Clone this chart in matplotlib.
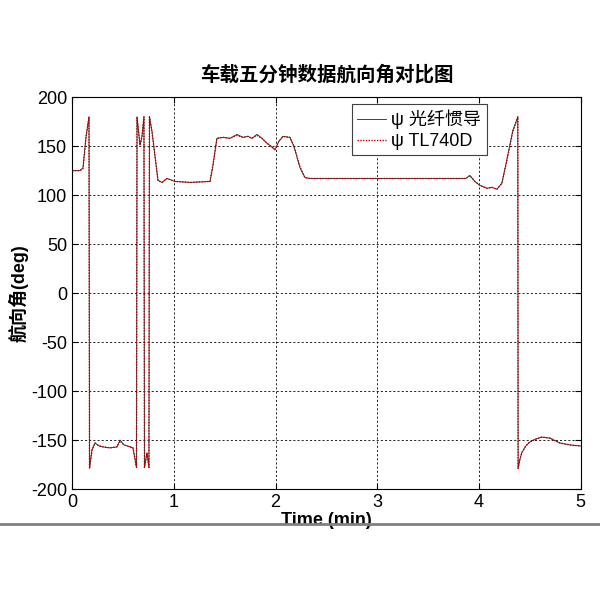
import matplotlib
matplotlib.use('Agg')
import matplotlib.pyplot as plt
from matplotlib.lines import Line2D

plt.rcParams['font.family'] = ['Liberation Sans', 'Noto Sans CJK SC', 'DejaVu Sans']
plt.rcParams['axes.unicode_minus'] = False

# heading (deg) vs time (min); wraps at +-180
time_min = [0.0, 0.079, 0.108, 0.138, 0.167, 0.172, 0.196, 0.226, 0.265, 0.305,
            0.373, 0.442, 0.472, 0.511, 0.570, 0.599, 0.634, 0.639, 0.668, 0.688,
            0.707, 0.712, 0.737, 0.756, 0.761, 0.786, 0.815, 0.845, 0.884, 0.933,
            1.012, 1.159, 1.356, 1.385, 1.424, 1.483, 1.552, 1.621, 1.680, 1.729,
            1.768, 1.817, 1.867, 1.916, 1.955, 1.994, 2.033, 2.073, 2.141, 2.181,
            2.240, 2.289, 2.338, 2.731, 3.222, 3.713, 3.870, 3.910, 3.959, 4.008,
            4.077, 4.126, 4.175, 4.224, 4.273, 4.332, 4.381, 4.384, 4.401, 4.420,
            4.460, 4.499, 4.558, 4.617, 4.695, 4.794, 4.892, 4.990, 5.0]
psi_fog = [125, 125, 128, 160, 180, -179, -160, -153, -156, -157,
           -158, -157, -150, -155, -157, -158, -178, 180, 151, 160,
           180, -178, -163, -178, 180, 165, 140, 115, 113, 117,
           114, 113, 114, 130, 158, 159, 158, 162, 159, 160,
           158, 162, 158, 153, 150, 146, 155, 160, 159, 150,
           128, 118, 117, 117, 117, 117, 117, 120, 114, 110,
           107, 108, 106, 112, 136, 166, 180, -179, -170, -163,
           -156, -152, -149, -147, -148, -153, -155, -156, -156]
psi_tl740d = [125, 125, 127, 159, 180, -179, -161, -153, -156, -157,
              -158, -157, -151, -155, -157, -158, -178, 180, 151, 160,
              180, -178, -163, -178, 180, 165, 141, 115, 113, 117,
              114, 113, 114, 131, 158, 159, 158, 161, 159, 160,
              158, 161, 158, 153, 150, 147, 155, 160, 159, 150,
              129, 118, 117, 117, 117, 117, 117, 120, 114, 110,
              107, 108, 106, 112, 135, 165, 180, -179, -170, -163,
              -156, -152, -149, -147, -148, -153, -155, -156, -156]

fig = plt.figure(figsize=(6, 6), dpi=100)
ax = fig.add_axes([0.12, 0.185, 0.848, 0.653])

ax.plot(time_min, psi_fog, color='#202020', lw=0.6, label='ψ 光纤惯导')
ax.plot(time_min, psi_tl740d, color='#c00000', lw=1.0, ls=(0, (1, 1)),
        label='ψ TL740D')

ax.set_xlim(0, 5)
ax.set_ylim(-200, 200)
ax.set_xticks([0, 1, 2, 3, 4, 5])
ax.set_yticks(range(-200, 201, 50))
ax.tick_params(direction='in', top=True, right=True, labelsize=13, length=4)
ax.grid(True, color='black', ls=(0, (2.5, 2.5)), lw=0.6)
for s in ax.spines.values():
    s.set_linewidth(0.8)

ax.set_title('车载五分钟数据航向角对比图', fontsize=14, fontweight='bold', pad=12)
ax.set_xlabel('Time (min)', fontsize=13, fontweight='bold', labelpad=1)
ax.set_ylabel('航向角(deg)', fontsize=13, fontweight='bold', labelpad=2)

leg = ax.legend(loc='upper right', bbox_to_anchor=(0.815, 0.982), fontsize=13,
                borderaxespad=0, handlelength=1.6, handletextpad=0.3,
                borderpad=0.3, labelspacing=0.2, fancybox=False, framealpha=1)
leg.get_frame().set_edgecolor('#404040')
leg.get_frame().set_linewidth(0.8)

# grey strip line across the bottom of the screenshot
fig.add_artist(Line2D([0, 1], [0.127, 0.127], transform=fig.transFigure,
                      color='#808080', lw=2))

fig.savefig('out.png', dpi=100)
